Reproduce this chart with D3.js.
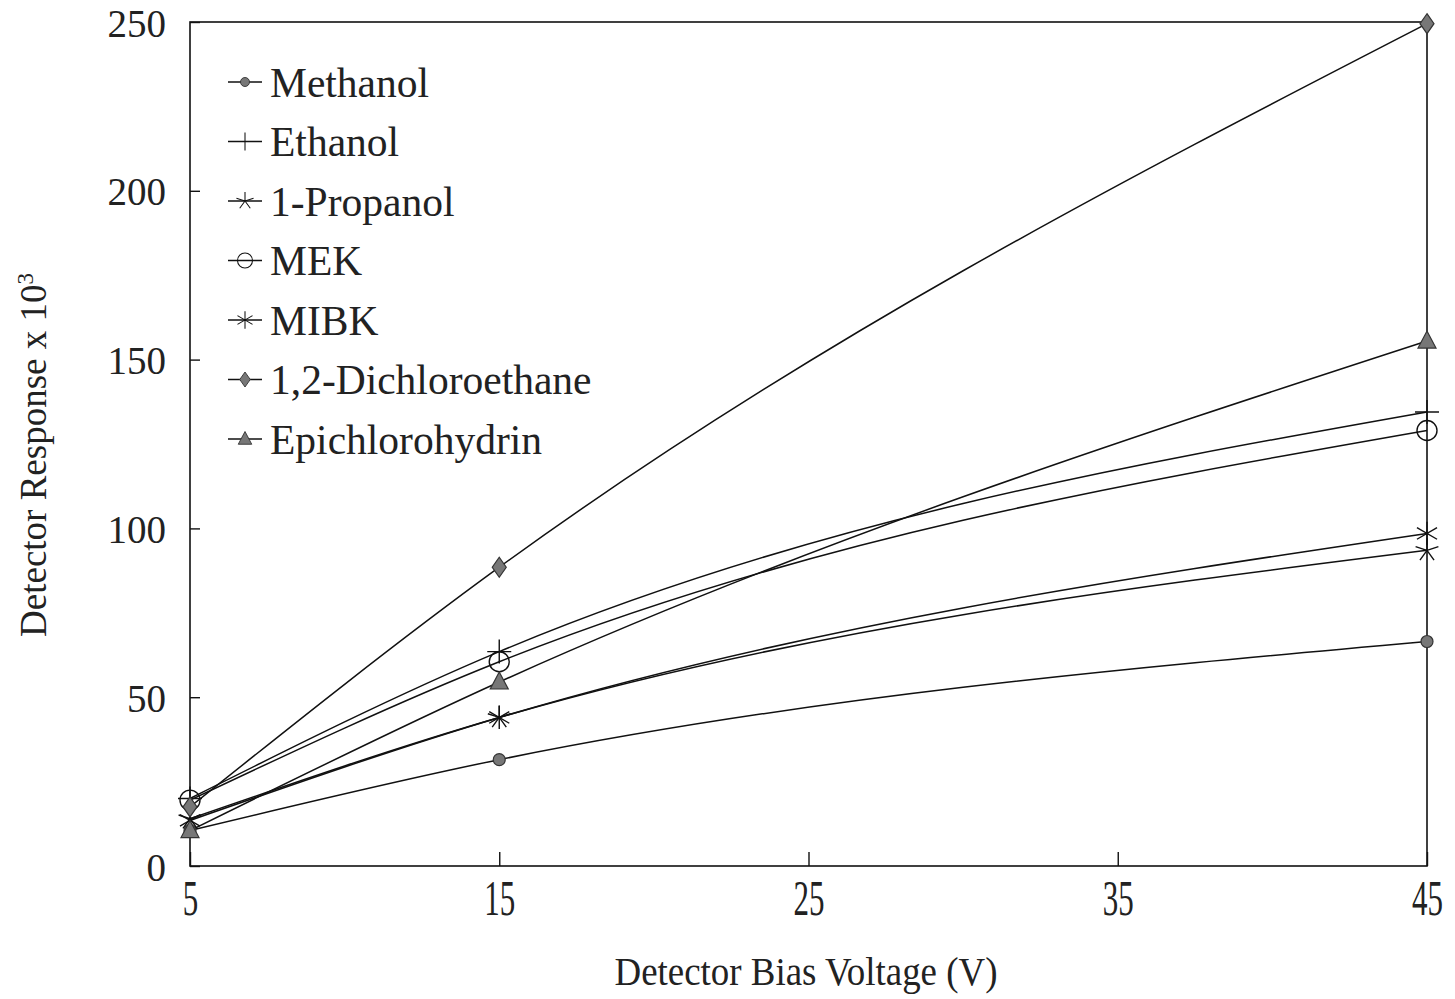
<!DOCTYPE html>
<html>
<head>
<meta charset="utf-8">
<script src="https://d3js.org/d3.v7.min.js"></script>
<style>
  body { margin: 0; background: #fff; }
  svg { display: block; font-family: "Liberation Serif", "Times New Roman", serif; }
</style>
</head>
<body>
<div id="chart"></div>
<script>
  // data
  const voltages = [5, 15, 45]
  const methanol = [10.5, 31.5, 66.5]
  const ethanol = [20, 63.5, 134.5]
  const propanol = [14, 44, 93.5]
  const mek = [19.5, 60.5, 129]
  const mibk = [13.5, 44, 98.5]
  const dichloroethane = [17.5, 88.5, 249.5]
  const epichlorohydrin = [10.5, 54.5, 155.5]

  const seriesNames = ["Methanol", "Ethanol", "1-Propanol", "MEK", "MIBK", "1,2-Dichloroethane", "Epichlorohydrin"]
  const seriesValues = [methanol, ethanol, propanol, mek, mibk, dichloroethane, epichlorohydrin]
  const markers = ["dot", "plus", "star", "ring", "asterisk", "diamond", "triangle"]

  const xTicks = [5, 15, 25, 35, 45]
  const yTicks = [0, 50, 100, 150, 200, 250]

  const width = 1455
  const height = 999
  const plotLeft = 190, plotRight = 1427, plotTop = 22, plotBottom = 866

  const svg = d3.select("#chart").append("svg")
    .attr("width", width)
    .attr("height", height)

  svg.append("rect").attr("width", width).attr("height", height).attr("fill", "#fff")

  const xScale = d3.scaleLinear().domain([5, 45]).range([plotLeft, plotRight])
  const yScale = d3.scaleLinear().domain([0, 250]).range([plotBottom, plotTop])

  // frame
  svg.append("rect")
    .attr("x", plotLeft).attr("y", plotTop)
    .attr("width", plotRight - plotLeft).attr("height", plotBottom - plotTop)
    .attr("fill", "none").attr("stroke", "#111").attr("stroke-width", 1.6)

  const yAxis = svg.append("g")
    .attr("transform", "translate(" + plotLeft + ",0)")
    .call(d3.axisLeft(yScale).tickValues(yTicks).tickSizeInner(-10).tickSizeOuter(0).tickPadding(24))
  yAxis.select(".domain").remove()
  yAxis.selectAll("line").attr("stroke", "#111").attr("stroke-width", 1.4)
  yAxis.selectAll("text").attr("font-family", "Liberation Serif").attr("font-size", 39)
    .attr("fill", "#222").attr("dy", "0.36em")

  const xAxis = svg.append("g")
    .attr("transform", "translate(0," + plotBottom + ")")
    .call(d3.axisBottom(xScale).tickValues(xTicks).tickSizeInner(-14).tickSizeOuter(0).tickPadding(14))
  xAxis.select(".domain").remove()
  xAxis.selectAll("line").attr("stroke", "#111").attr("stroke-width", 1.4)
  xAxis.selectAll("text").attr("font-family", "Liberation Serif").attr("font-size", 50)
    .attr("fill", "#222").attr("dy", "0.71em")
    .attr("transform", "scale(0.62,1)")

  // axis titles
  svg.append("text")
    .attr("x", 0).attr("y", 0)
    .attr("transform", "translate(806,985) scale(0.9,1)")
    .attr("text-anchor", "middle")
    .attr("font-size", 41)
    .attr("fill", "#222")
    .text("Detector Bias Voltage (V)")

  const yTitle = svg.append("text")
    .attr("transform", "translate(46,455) rotate(-90)")
    .attr("text-anchor", "middle")
    .attr("font-size", 37)
    .attr("fill", "#222")
  yTitle.append("tspan").text("Detector Response x 10")
  yTitle.append("tspan").attr("font-size", 23).attr("dy", -13).text("3")

  // smoothed lines
  const line = d3.line()
    .x((d, i) => xScale(voltages[i]))
    .y(d => yScale(d))
    .curve(d3.curveMonotoneX)

  svg.append("g").selectAll("path")
    .data(seriesValues)
    .enter()
    .append("path")
    .attr("d", d => line(d))
    .attr("fill", "none")
    .attr("stroke", "#111")
    .attr("stroke-width", 1.5)

  const starPath = (r) => {
    let p = ""
    for (let k = 0; k < 5; k++) {
      const a = -Math.PI / 2 + k * 2 * Math.PI / 5
      p += "M0,0L" + (r * Math.cos(a)).toFixed(2) + "," + (r * Math.sin(a)).toFixed(2)
    }
    return p
  }

  const drawMarker = (g, type) => {
    if (type === "dot") {
      g.append("circle").attr("r", 6).attr("fill", "#777").attr("stroke", "#333").attr("stroke-width", 1.2)
    } else if (type === "plus") {
      g.append("path").attr("d", "M-12,0H12M0,-12V12").attr("stroke", "#111").attr("stroke-width", 1.4).attr("fill", "none")
    } else if (type === "star") {
      g.append("path").attr("d", starPath(12)).attr("stroke", "#111").attr("stroke-width", 1.4).attr("fill", "none")
    } else if (type === "ring") {
      g.append("circle").attr("r", 10).attr("fill", "none").attr("stroke", "#111").attr("stroke-width", 1.4)
    } else if (type === "asterisk") {
      g.append("path").attr("d", d3.symbol().type(d3.symbolAsterisk).size(380)()).attr("stroke", "#111").attr("stroke-width", 1.4).attr("fill", "none")
    } else if (type === "diamond") {
      g.append("path").attr("d", "M0,-10L7,0L0,10L-7,0Z").attr("fill", "#777").attr("stroke", "#333").attr("stroke-width", 1.2)
    } else if (type === "triangle") {
      g.append("path").attr("d", "M0,-10L9,7H-9Z").attr("fill", "#777").attr("stroke", "#333").attr("stroke-width", 1.2)
    }
  }

  const markerLayer = svg.append("g")
  seriesValues.forEach((vals, s) => {
    vals.forEach((v, i) => {
      const g = markerLayer.append("g")
        .attr("transform", "translate(" + xScale(voltages[i]) + "," + yScale(v) + ")")
      drawMarker(g, markers[s])
    })
  })

  // legend
  const legend = svg.append("g").attr("transform", "translate(228,82)")
  seriesNames.forEach((name, s) => {
    const row = legend.append("g").attr("transform", "translate(0," + (s * 59.5) + ")")
    row.append("line").attr("x1", 0).attr("x2", 34).attr("stroke", "#111").attr("stroke-width", 1.4)
    const m = row.append("g").attr("transform", "translate(17,0) scale(0.75)")
    drawMarker(m, markers[s])
    row.append("text")
      .attr("x", 42).attr("y", 0).attr("dy", "0.35em")
      .attr("font-size", 41.5)
      .attr("fill", "#222")
      .text(name)
  })
</script>
</body>
</html>
